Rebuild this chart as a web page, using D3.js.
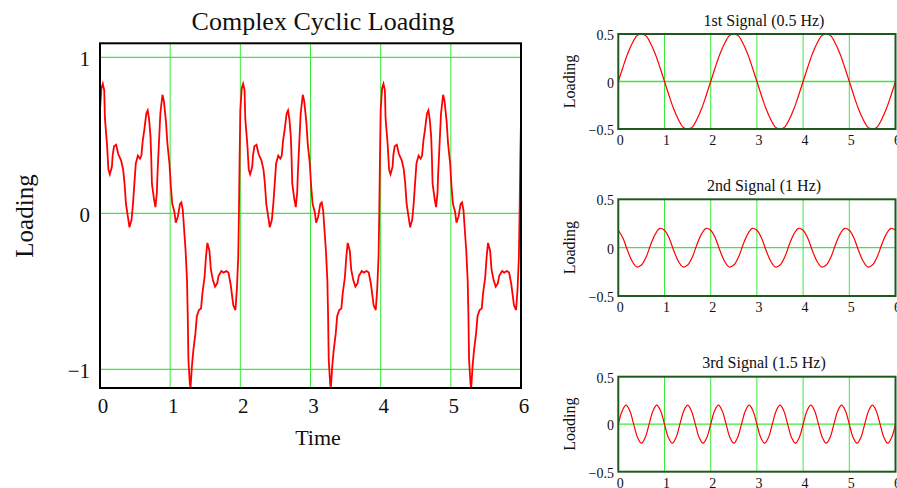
<!DOCTYPE html>
<html>
<head>
<meta charset="utf-8">
<script src="https://cdn.jsdelivr.net/npm/d3@7"></script>
<style>
  body { margin: 0; background: #fff; }
  svg { display: block; }
  text { font-family: "Liberation Serif", "Times New Roman", serif; fill: #111; }
</style>
</head>
<body>
<div id="chart"></div>
<script>
// Main signal as [time, loading] per 2 s cycle
var cycle1 = [[0.00,0.66],[0.02,0.80],[0.04,0.83],[0.06,0.79],[0.07,0.61],[0.10,0.44],[0.12,0.28],[0.14,0.25],[0.17,0.30],[0.18,0.37],[0.20,0.43],[0.23,0.44],[0.26,0.38],[0.30,0.34],[0.33,0.28],[0.35,0.19],[0.37,0.06],[0.40,-0.03],[0.42,-0.09],[0.45,-0.04],[0.47,0.06],[0.49,0.19],[0.51,0.32],[0.54,0.37],[0.57,0.35],[0.59,0.37],[0.61,0.47],[0.63,0.53],[0.66,0.64],[0.68,0.66],[0.70,0.60],[0.72,0.49],[0.73,0.36],[0.74,0.19],[0.77,0.09],[0.79,0.04],[0.81,0.13],[0.82,0.26],[0.84,0.45],[0.86,0.64],[0.89,0.76],[0.91,0.72],[0.94,0.59],[0.96,0.45],[0.99,0.32],[1.01,0.17],[1.03,0.06],[1.06,0.01],[1.08,-0.06],[1.11,-0.02],[1.14,0.06],[1.16,0.07],[1.18,0.02],[1.20,-0.11],[1.22,-0.24],[1.24,-0.43],[1.25,-0.64],[1.26,-0.94],[1.28,-1.09],[1.29,-1.12],[1.31,-0.98],[1.33,-0.88],[1.36,-0.77],[1.38,-0.66],[1.41,-0.62],[1.44,-0.61],[1.46,-0.51],[1.49,-0.41],[1.51,-0.28],[1.53,-0.19],[1.56,-0.24],[1.58,-0.36],[1.61,-0.43],[1.64,-0.47],[1.67,-0.45],[1.69,-0.40],[1.73,-0.37],[1.76,-0.38],[1.80,-0.37],[1.83,-0.38],[1.86,-0.45],[1.88,-0.52],[1.90,-0.59],[1.93,-0.62],[1.95,-0.49],[1.97,-0.28],[1.98,0.00],[1.99,0.36]];
var cycle2 = [[2.00,0.66],[2.02,0.80],[2.04,0.83],[2.06,0.79],[2.07,0.61],[2.10,0.44],[2.12,0.28],[2.14,0.25],[2.17,0.30],[2.18,0.37],[2.20,0.43],[2.23,0.44],[2.26,0.38],[2.30,0.34],[2.33,0.28],[2.35,0.19],[2.37,0.06],[2.40,-0.03],[2.42,-0.09],[2.45,-0.04],[2.47,0.06],[2.49,0.19],[2.51,0.32],[2.54,0.37],[2.57,0.35],[2.59,0.37],[2.61,0.47],[2.63,0.53],[2.66,0.64],[2.68,0.66],[2.70,0.60],[2.72,0.49],[2.73,0.36],[2.74,0.19],[2.77,0.09],[2.79,0.04],[2.81,0.13],[2.82,0.26],[2.84,0.45],[2.86,0.64],[2.89,0.76],[2.91,0.72],[2.94,0.59],[2.96,0.45],[2.99,0.32],[3.01,0.17],[3.03,0.06],[3.06,0.01],[3.08,-0.06],[3.11,-0.02],[3.14,0.06],[3.16,0.07],[3.18,0.02],[3.20,-0.11],[3.22,-0.24],[3.24,-0.43],[3.25,-0.64],[3.26,-0.94],[3.28,-1.09],[3.29,-1.12],[3.31,-0.98],[3.33,-0.88],[3.36,-0.77],[3.38,-0.66],[3.41,-0.62],[3.44,-0.61],[3.46,-0.51],[3.49,-0.41],[3.51,-0.28],[3.53,-0.19],[3.56,-0.24],[3.58,-0.36],[3.61,-0.43],[3.64,-0.47],[3.67,-0.45],[3.69,-0.40],[3.73,-0.37],[3.76,-0.38],[3.80,-0.37],[3.83,-0.38],[3.86,-0.45],[3.88,-0.52],[3.90,-0.59],[3.93,-0.62],[3.95,-0.49],[3.97,-0.28],[3.98,0.00],[3.99,0.36]];
var cycle3 = [[4.00,0.66],[4.02,0.80],[4.04,0.83],[4.06,0.79],[4.07,0.61],[4.10,0.44],[4.12,0.28],[4.14,0.25],[4.17,0.30],[4.18,0.37],[4.20,0.43],[4.23,0.44],[4.26,0.38],[4.30,0.34],[4.33,0.28],[4.35,0.19],[4.37,0.06],[4.40,-0.03],[4.42,-0.09],[4.45,-0.04],[4.47,0.06],[4.49,0.19],[4.51,0.32],[4.54,0.37],[4.57,0.35],[4.59,0.37],[4.61,0.47],[4.63,0.53],[4.66,0.64],[4.68,0.66],[4.70,0.60],[4.72,0.49],[4.73,0.36],[4.74,0.19],[4.77,0.09],[4.79,0.04],[4.81,0.13],[4.82,0.26],[4.84,0.45],[4.86,0.64],[4.89,0.76],[4.91,0.72],[4.94,0.59],[4.96,0.45],[4.99,0.32],[5.01,0.17],[5.03,0.06],[5.06,0.01],[5.08,-0.06],[5.11,-0.02],[5.14,0.06],[5.16,0.07],[5.18,0.02],[5.20,-0.11],[5.22,-0.24],[5.24,-0.43],[5.25,-0.64],[5.26,-0.94],[5.28,-1.09],[5.29,-1.12],[5.31,-0.98],[5.33,-0.88],[5.36,-0.77],[5.38,-0.66],[5.41,-0.62],[5.44,-0.61],[5.46,-0.51],[5.49,-0.41],[5.51,-0.28],[5.53,-0.19],[5.56,-0.24],[5.58,-0.36],[5.61,-0.43],[5.64,-0.47],[5.67,-0.45],[5.69,-0.40],[5.73,-0.37],[5.76,-0.38],[5.80,-0.37],[5.83,-0.38],[5.86,-0.45],[5.88,-0.52],[5.90,-0.59],[5.93,-0.62],[5.95,-0.49],[5.97,-0.28],[5.98,0.00],[5.99,0.36],[6.00,0.60]];

var mainXTicks = [0, 1, 2, 3, 4, 5, 6];
var mainYTicks = [-1, 0, 1];
var smallXTicks = [0, 1, 2, 3, 4, 5, 6];
var smallYTicks = [-0.5, 0, 0.5];

var signal1Step = 0.1;
var signal1 = [0,0.15,0.29,0.40,0.48,0.50,0.48,0.40,0.29,0.15,0,-0.15,-0.29,-0.40,-0.48,-0.50,-0.48,-0.40,-0.29,-0.15,
               0,0.15,0.29,0.40,0.48,0.50,0.48,0.40,0.29,0.15,0,-0.15,-0.29,-0.40,-0.48,-0.50,-0.48,-0.40,-0.29,-0.15,
               0,0.15,0.29,0.40,0.48,0.50,0.48,0.40,0.29,0.15,0,-0.15,-0.29,-0.40,-0.48,-0.50,-0.48,-0.40,-0.29,-0.15,0];
var signal2Step = 0.1;
var signal2 = [0.18,0.10,-0.03,-0.14,-0.20,-0.18,-0.10,0.03,0.14,0.20,
               0.18,0.10,-0.03,-0.14,-0.20,-0.18,-0.10,0.03,0.14,0.20,
               0.18,0.10,-0.03,-0.14,-0.20,-0.18,-0.10,0.03,0.14,0.20,
               0.18,0.10,-0.03,-0.14,-0.20,-0.18,-0.10,0.03,0.14,0.20,
               0.18,0.10,-0.03,-0.14,-0.20,-0.18,-0.10,0.03,0.14,0.20,
               0.18,0.10,-0.03,-0.14,-0.20,-0.18,-0.10,0.03,0.14,0.20,0.18];
var signal3Step = 1 / 12;
var signal3 = [0,0.14,0.20,0.14,0,-0.14,-0.20,-0.14, 0,0.14,0.20,0.14,0,-0.14,-0.20,-0.14,
               0,0.14,0.20,0.14,0,-0.14,-0.20,-0.14, 0,0.14,0.20,0.14,0,-0.14,-0.20,-0.14,
               0,0.14,0.20,0.14,0,-0.14,-0.20,-0.14, 0,0.14,0.20,0.14,0,-0.14,-0.20,-0.14,
               0,0.14,0.20,0.14,0,-0.14,-0.20,-0.14, 0,0.14,0.20,0.14,0,-0.14,-0.20,-0.14,
               0,0.14,0.20,0.14,0,-0.14,-0.20,-0.14, 0];

var gridColor = "#3aea3a";
var fmt = function(d) { return d < 0 ? "\u2212" + Math.abs(d) : String(d); };

var svg = d3.select("#chart").append("svg")
    .attr("width", 897)
    .attr("height", 488);

// ---------- main chart ----------
var xMain = d3.scaleLinear().domain([0, 6]).range([100, 521]);
var yMain = d3.scaleLinear().domain([-1.12, 1.09]).range([388, 43.3]);

svg.append("defs").append("clipPath").attr("id", "clipMain")
    .append("rect")
    .attr("x", xMain(0)).attr("y", yMain(1.09))
    .attr("width", xMain(6) - xMain(0)).attr("height", yMain(-1.12) - yMain(1.09));

var mainGroup = svg.append("g");

mainGroup.selectAll(".vgrid").data(mainXTicks.slice(1, 6)).enter()
    .append("line")
    .attr("x1", d => xMain(d)).attr("x2", d => xMain(d))
    .attr("y1", yMain.range()[0]).attr("y2", yMain.range()[1])
    .attr("stroke", gridColor).attr("stroke-width", 1);
mainGroup.selectAll(".hgrid").data(mainYTicks).enter()
    .append("line")
    .attr("x1", xMain(0)).attr("x2", xMain(6))
    .attr("y1", d => yMain(d)).attr("y2", d => yMain(d))
    .attr("stroke", gridColor).attr("stroke-width", 1.3);

var mainLine = d3.line().x(d => xMain(d[0])).y(d => yMain(d[1]));
mainGroup.append("path")
    .datum(cycle1.concat(cycle2, cycle3))
    .attr("clip-path", "url(#clipMain)")
    .attr("d", mainLine)
    .attr("fill", "none")
    .attr("stroke", "#ff0000")
    .attr("stroke-width", 1.8);

mainGroup.append("rect")
    .attr("x", xMain(0)).attr("y", yMain(1.09))
    .attr("width", xMain(6) - xMain(0)).attr("height", yMain(-1.12) - yMain(1.09))
    .attr("fill", "none").attr("stroke", "#000").attr("stroke-width", 2);

mainGroup.selectAll(".xlab").data(mainXTicks).enter()
    .append("text")
    .attr("x", d => xMain(d) + 3)
    .attr("y", 413)
    .attr("text-anchor", "middle")
    .style("font-size", "21px")
    .text(d => d);
mainGroup.selectAll(".ylab").data(mainYTicks).enter()
    .append("text")
    .attr("x", 90)
    .attr("y", d => yMain(d) + 9)
    .attr("text-anchor", "end")
    .style("font-size", "21px")
    .text(fmt);

svg.append("text")
    .attr("x", 323).attr("y", 30)
    .attr("text-anchor", "middle")
    .style("font-size", "26px")
    .text("Complex Cyclic Loading");
svg.append("text")
    .attr("x", 318).attr("y", 445)
    .attr("text-anchor", "middle")
    .style("font-size", "22px")
    .text("Time");
svg.append("text")
    .attr("transform", "translate(33,216) rotate(-90)")
    .attr("text-anchor", "middle")
    .style("font-size", "25px")
    .text("Loading");

// ---------- small charts ----------
function smallChart(values, step, top, bottom, titleY, titleText) {
    var x = d3.scaleLinear().domain([0, 6]).range([618.3, 895.5]);
    var y = d3.scaleLinear().domain([-0.5, 0.5]).range([bottom, top]);
    var g = svg.append("g");

    g.selectAll(".vgrid").data(smallXTicks.slice(1, 6)).enter()
        .append("line")
        .attr("x1", d => x(d)).attr("x2", d => x(d))
        .attr("y1", bottom).attr("y2", top)
        .attr("stroke", gridColor).attr("stroke-width", 1);
    g.append("line")
        .attr("x1", x(0)).attr("x2", x(6))
        .attr("y1", y(0)).attr("y2", y(0))
        .attr("stroke", gridColor).attr("stroke-width", 1.3);

    var line = d3.line()
        .x((d, i) => x(i * step))
        .y(d => y(d))
        .curve(d3.curveCatmullRom);
    g.append("path")
        .datum(values)
        .attr("d", line)
        .attr("fill", "none")
        .attr("stroke", "#ff0000")
        .attr("stroke-width", 1.2);

    g.append("rect")
        .attr("x", x(0)).attr("y", top)
        .attr("width", x(6) - x(0)).attr("height", bottom - top)
        .attr("fill", "none").attr("stroke", "#1e5a1e").attr("stroke-width", 2);

    g.selectAll(".xlab").data(smallXTicks).enter()
        .append("text")
        .attr("x", d => x(d) + 2)
        .attr("y", bottom + 16)
        .attr("text-anchor", "middle")
        .style("font-size", "14px")
        .text(d => d);
    g.selectAll(".ylab").data(smallYTicks).enter()
        .append("text")
        .attr("x", 614)
        .attr("y", d => y(d) + 6)
        .attr("text-anchor", "end")
        .style("font-size", "14px")
        .text(fmt);

    g.append("text")
        .attr("x", 764).attr("y", titleY)
        .attr("text-anchor", "middle")
        .style("font-size", "16px")
        .text(titleText);
    g.append("text")
        .attr("transform", "translate(575," + ((top + bottom) / 2) + ") rotate(-90)")
        .attr("text-anchor", "middle")
        .style("font-size", "16px")
        .text("Loading");
}

smallChart(signal1, signal1Step, 34, 129, 26, "1st Signal (0.5 Hz)");
smallChart(signal2, signal2Step, 199.3, 296, 191, "2nd Signal (1 Hz)");
smallChart(signal3, signal3Step, 376.7, 471.7, 368, "3rd Signal (1.5 Hz)");
</script>
</body>
</html>
